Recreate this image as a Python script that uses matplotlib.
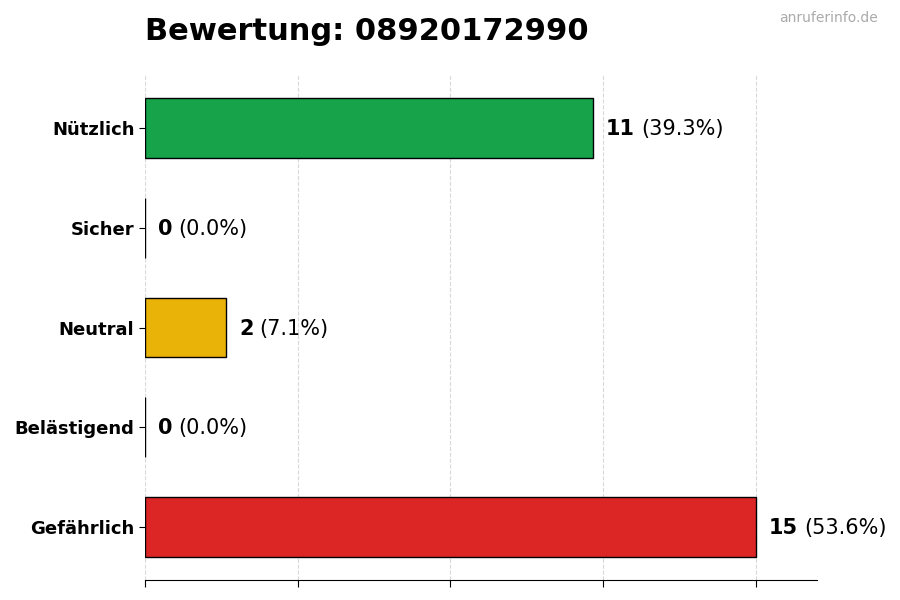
import numpy as np
from matplotlib import pyplot as plt

categories = ['Nützlich', 'Sicher', 'Neutral', 'Belästigend', 'Gefährlich']
counts = [11, 0, 2, 0, 15]
colors = ['#16a34a', '#16a34a', '#eab308', '#dc2626', '#dc2626']
title = 'Bewertung: 08920172990'
watermark = 'anruferinfo.de'

total = sum(counts)
ypos = np.arange(len(categories))[::-1]

fig = plt.figure(figsize=(9, 6), dpi=100)
ax = fig.add_axes([0.161, 0.0333, 0.747, 0.8417])

ax.barh(ypos, counts, height=0.6, color=colors, edgecolor='black', linewidth=1, zorder=3)

xmax = max(counts) * 1.1
ax.set_xlim(0, xmax)
ax.set_xticks(np.linspace(0, max(counts), 5))
ax.set_xticklabels([])
ax.tick_params(axis='x', length=5)
ax.set_yticks(ypos)
ax.set_yticklabels(categories, fontsize=13, fontweight='bold')
ax.tick_params(axis='y', length=4)
ax.grid(axis='x', linestyle='--', color='#d9d9d9', linewidth=0.8, zorder=0)

for side in ['top', 'right', 'left']:
    ax.spines[side].set_visible(False)

for y, c in zip(ypos, counts):
    t = ax.text(c + xmax * 0.019, y - 0.01, str(c), fontsize=15, fontweight='bold', va='center', ha='left')
    ax.annotate('(%.1f%%)' % (100 * c / total), xy=(1, 0), xycoords=t,
                xytext=(6, 0), textcoords='offset pixels',
                fontsize=15, va='bottom', ha='left')

fig.text(0.161, 0.948, title, fontsize=22, fontweight='bold', va='center', ha='left')
fig.text(0.975, 0.97, watermark, fontsize=10, color='#aaaaaa', va='center', ha='right')

plt.savefig('out.png')
